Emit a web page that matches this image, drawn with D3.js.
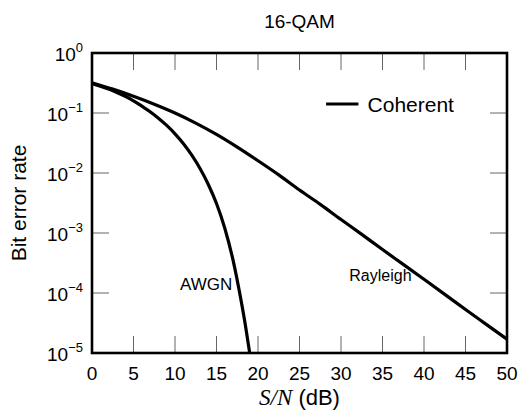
<!DOCTYPE html>
<html>
<head>
<meta charset="utf-8">
<script src="https://cdn.jsdelivr.net/npm/d3@7"></script>
<style>
  body { margin: 0; background: #fff; }
  svg { display: block; font-family: "Liberation Sans", Arial, sans-serif; }
  .tick-mark { stroke: #666; stroke-width: 1; }
</style>
</head>
<body>
<svg id="chart"></svg>
<script>
// S/N in dB and bit error rate
const awgnSnr = [0, 1, 2, 3, 4, 5, 6, 7, 8, 9, 10, 11, 12, 13, 14, 15, 16, 17, 18, 18.5, 19];
const awgnBer = [0.31, 0.28, 0.25, 0.22, 0.19, 0.16, 0.13, 0.105, 0.082, 0.062, 0.045,
  0.031, 0.020, 0.012, 0.0065, 0.0031, 0.0012, 3.5e-4, 7.0e-5, 2.8e-5, 1.0e-5];

const rayleighSnr = [0, 2.5, 5, 7.5, 10, 12.5, 15, 17.5, 20, 22.5, 25, 27.5, 30, 32.5, 35,
  37.5, 40, 42.5, 45, 47.5, 50];
const rayleighBer = [0.32, 0.25, 0.19, 0.14, 0.10, 0.068, 0.044, 0.027, 0.016, 0.0093, 0.0052,
  0.0030, 0.00168, 9.5e-4, 5.3e-4, 3.0e-4, 1.69e-4, 9.5e-5, 5.3e-5, 3.0e-5, 1.7e-5];

const xTicks = [0, 5, 10, 15, 20, 25, 30, 35, 40, 45, 50];
const yExponents = [0, -1, -2, -3, -4, -5];

const title = '16-QAM';
const yLabel = 'Bit error rate';
const legendLabel = 'Coherent';

const width = 522, height = 412;
const margin = { top: 53, right: 15, bottom: 59, left: 92 };
const innerW = width - margin.left - margin.right;
const innerH = height - margin.top - margin.bottom;

const svg = d3.select('#chart').attr('width', width).attr('height', height);
const g = svg.append('g').attr('transform', `translate(${margin.left},${margin.top})`);

const x = d3.scaleLinear().domain([0, 50]).range([0, innerW]);
const y = d3.scaleLog().domain([1e-5, 1]).range([innerH, 0]);

// inward ticks on all four sides
const tickLen = 17;
const innerX = xTicks.filter(d => d > 0 && d < 50);
const innerY = yExponents.filter(e => e < 0 && e > -5);

g.selectAll('line.xb').data(innerX).join('line')
  .attr('class', 'tick-mark')
  .attr('x1', d => x(d)).attr('x2', d => x(d))
  .attr('y1', innerH).attr('y2', innerH - tickLen);
g.selectAll('line.xt').data(innerX).join('line')
  .attr('class', 'tick-mark')
  .attr('x1', d => x(d)).attr('x2', d => x(d))
  .attr('y1', 0).attr('y2', tickLen);
g.selectAll('line.yl').data(innerY).join('line')
  .attr('class', 'tick-mark')
  .attr('y1', e => y(Math.pow(10, e))).attr('y2', e => y(Math.pow(10, e)))
  .attr('x1', 0).attr('x2', tickLen);
g.selectAll('line.yr').data(innerY).join('line')
  .attr('class', 'tick-mark')
  .attr('y1', e => y(Math.pow(10, e))).attr('y2', e => y(Math.pow(10, e)))
  .attr('x1', innerW).attr('x2', innerW - tickLen);

// x tick labels
g.selectAll('text.xlab').data(xTicks).join('text')
  .attr('x', d => x(d))
  .attr('y', innerH + 27)
  .attr('text-anchor', 'middle')
  .attr('font-size', 19)
  .text(d => d);

// y tick labels, 10 with superscript exponent
const ylab = g.selectAll('text.ylab').data(yExponents).join('text')
  .attr('x', -9)
  .attr('y', e => y(Math.pow(10, e)) + 8)
  .attr('text-anchor', 'end')
  .attr('font-size', 19);
ylab.append('tspan').text('10');
ylab.append('tspan')
  .attr('font-size', 13)
  .attr('dy', -9)
  .text(e => e === 0 ? '0' : '\u2212' + Math.abs(e));

// curves
const line = d3.line()
  .x(d => x(d[0]))
  .y(d => y(d[1]))
  .curve(d3.curveMonotoneX);

const awgn = awgnSnr.map((s, i) => [s, awgnBer[i]]);
const rayleigh = rayleighSnr.map((s, i) => [s, rayleighBer[i]]);

g.append('defs').append('clipPath').attr('id', 'clip')
  .append('rect').attr('width', innerW).attr('height', innerH);

g.selectAll('path.curve').data([awgn, rayleigh]).join('path')
  .attr('class', 'curve')
  .attr('clip-path', 'url(#clip)')
  .attr('fill', 'none')
  .attr('stroke', '#000')
  .attr('stroke-width', 3.2)
  .attr('d', line);

// frame
g.append('rect')
  .attr('width', innerW).attr('height', innerH)
  .attr('fill', 'none')
  .attr('stroke', '#000')
  .attr('stroke-width', 2.6);

// curve labels
g.append('text')
  .attr('x', x(10.6)).attr('y', y(Math.pow(10, -3.95)))
  .attr('font-size', 17)
  .text('AWGN');
g.append('text')
  .attr('x', x(31.0)).attr('y', y(Math.pow(10, -3.8)))
  .attr('font-size', 16)
  .text('Rayleigh');

// legend
g.append('line')
  .attr('x1', x(28.2)).attr('x2', x(32.1))
  .attr('y1', y(Math.pow(10, -0.85))).attr('y2', y(Math.pow(10, -0.85)))
  .attr('stroke', '#000').attr('stroke-width', 3.2);
g.append('text')
  .attr('x', x(33.2)).attr('y', y(Math.pow(10, -0.85)) + 8)
  .attr('font-size', 21)
  .text(legendLabel);

// title
svg.append('text')
  .attr('x', margin.left + innerW / 2).attr('y', 28)
  .attr('text-anchor', 'middle')
  .attr('font-size', 19)
  .text(title);

// axis titles
svg.append('text')
  .attr('transform', `translate(26,${margin.top + innerH / 2}) rotate(-90)`)
  .attr('text-anchor', 'middle')
  .attr('font-size', 21)
  .text(yLabel);

const xl = svg.append('text')
  .attr('x', margin.left + innerW / 2).attr('y', 405)
  .attr('text-anchor', 'middle')
  .attr('font-size', 22);
xl.append('tspan')
  .attr('font-family', '"Liberation Serif", "Times New Roman", serif')
  .attr('font-style', 'italic')
  .attr('font-size', 23)
  .text('S/N');
xl.append('tspan').text(' (dB)');
</script>
</body>
</html>
